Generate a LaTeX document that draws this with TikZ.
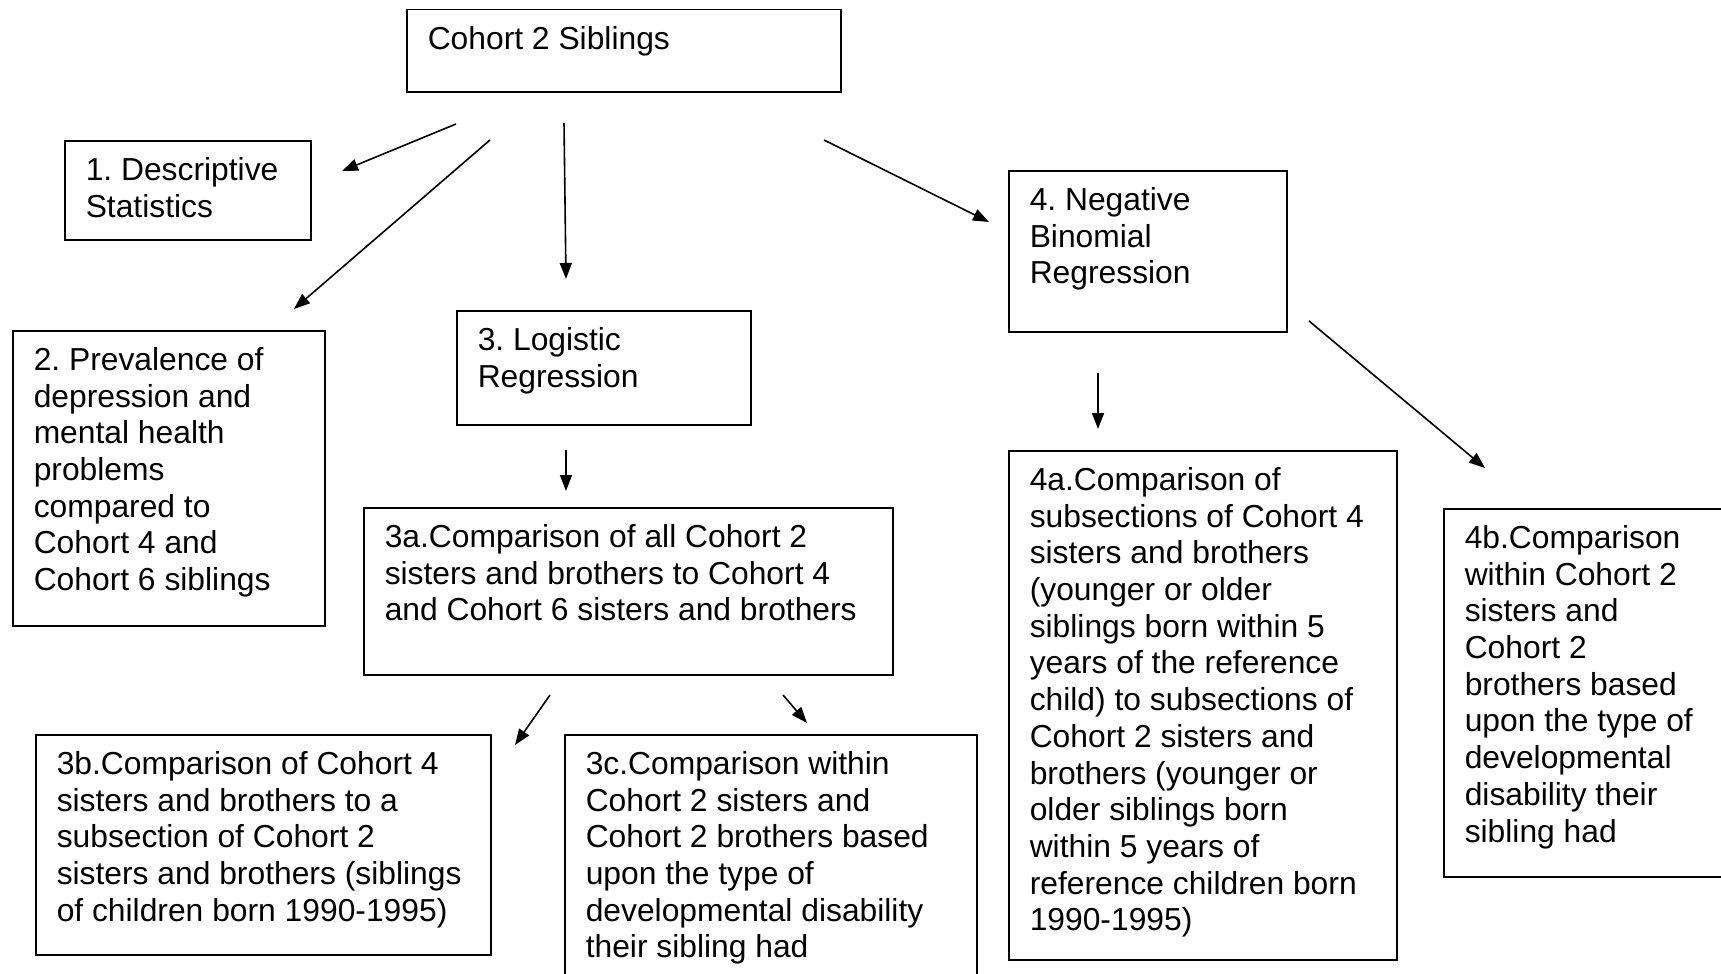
\documentclass[tikz,border=0pt]{standalone}
\usepackage{fontspec}
\setmainfont{Liberation Sans}
\frenchspacing
\usetikzlibrary{arrows.meta}
\tikzstyle{box}=[draw, rectangle, line width=1.5pt, anchor=north west, inner xsep=21pt, inner ysep=14pt, font=\fontsize{31.8pt}{36.7pt}\selectfont]
\tikzstyle{link}=[line width=1.6pt, -{Triangle[length=16pt, width=12pt]}]
% box text: width, height, lines
\newcommand{\boxtext}[3]{\parbox[t][#2][t]{#1}{\begin{tabular}[t]{@{}l@{}}#3\end{tabular}}}

\begin{document}
\begin{tikzpicture}[x=1pt, y=-1pt]
        \useasboundingbox (0,0) rectangle (1721,974);
        \clip (0,0) rectangle (1721,974);
        \node[box, minimum width=434pt, minimum height=82pt] (sib) at (406,9) {\boxtext{392pt}{54pt}{Cohort 2 Siblings}};
        \node[box, minimum width=246pt, minimum height=99pt] (desc) at (64,140) {\boxtext{204pt}{71pt}{1. Descriptive\\Statistics}};
        \node[box, minimum width=312pt, minimum height=295pt] (prev) at (12,330) {\boxtext{270pt}{267pt}{2. Prevalence of\\depression and\\mental health\\problems\\compared to\\Cohort 4 and\\Cohort 6 siblings}};
        \node[box, minimum width=294pt, minimum height=114pt] (logit) at (456,310) {\boxtext{252pt}{86pt}{3. Logistic\\Regression}};
        \node[box, minimum width=278pt, minimum height=161pt] (negbin) at (1008,170) {\boxtext{236pt}{133pt}{4. Negative\\Binomial\\Regression}};
        \node[box, minimum width=529pt, minimum height=167pt] (cmpa) at (363,507) {\boxtext{487pt}{139pt}{3a.Comparison of all Cohort 2\\sisters and brothers to Cohort 4\\and Cohort 6 sisters and brothers}};
        \node[box, minimum width=455pt, minimum height=220pt] (cmpb) at (35,734) {\boxtext{413pt}{192pt}{3b.Comparison of Cohort 4\\sisters and brothers to a\\subsection of Cohort 2\\sisters and brothers (siblings\\of children born 1990-1995)}};
        \node[box, minimum width=412pt, minimum height=260pt] (cmpc) at (564,734) {\boxtext{370pt}{232pt}{3c.Comparison within\\Cohort 2 sisters and\\Cohort 2 brothers based\\upon the type of\\developmental disability\\their sibling had}};
        \node[box, minimum width=388pt, minimum height=509pt] (cmpd) at (1008,450) {\boxtext{346pt}{481pt}{4a.Comparison of\\subsections of Cohort 4\\sisters and brothers\\(younger or older\\siblings born within 5\\years of the reference\\child) to subsections of\\Cohort 2 sisters and\\brothers (younger or\\older siblings born\\within 5 years of\\reference children born\\1990-1995)}};
        \node[box, minimum width=300pt, minimum height=368pt] (cmpe) at (1443,508) {\boxtext{258pt}{340pt}{4b.Comparison\\within Cohort 2\\sisters and\\Cohort 2\\brothers based\\upon the type of\\developmental\\disability their\\sibling had}};
        % free-standing arrows
        \coordinate (s1) at (456,124);  \coordinate (e1) at (342,171);
        \coordinate (s2) at (490,140);  \coordinate (e2) at (294,309);
        \coordinate (s3) at (564,123);  \coordinate (e3) at (566,279);
        \coordinate (s4) at (824,140);  \coordinate (e4) at (989,222);
        \coordinate (s5) at (566,450);  \coordinate (e5) at (566,491);
        \coordinate (s6) at (550,695);  \coordinate (e6) at (515,745);
        \coordinate (s7) at (783,695);  \coordinate (e7) at (807,723);
        \coordinate (s8) at (1098,373); \coordinate (e8) at (1098,429);
        \coordinate (s9) at (1309,321); \coordinate (e9) at (1485,468);
        \foreach \i in {1,...,9}
            \draw[link] (s\i) -- (e\i);
    \end{tikzpicture}
\end{document}
